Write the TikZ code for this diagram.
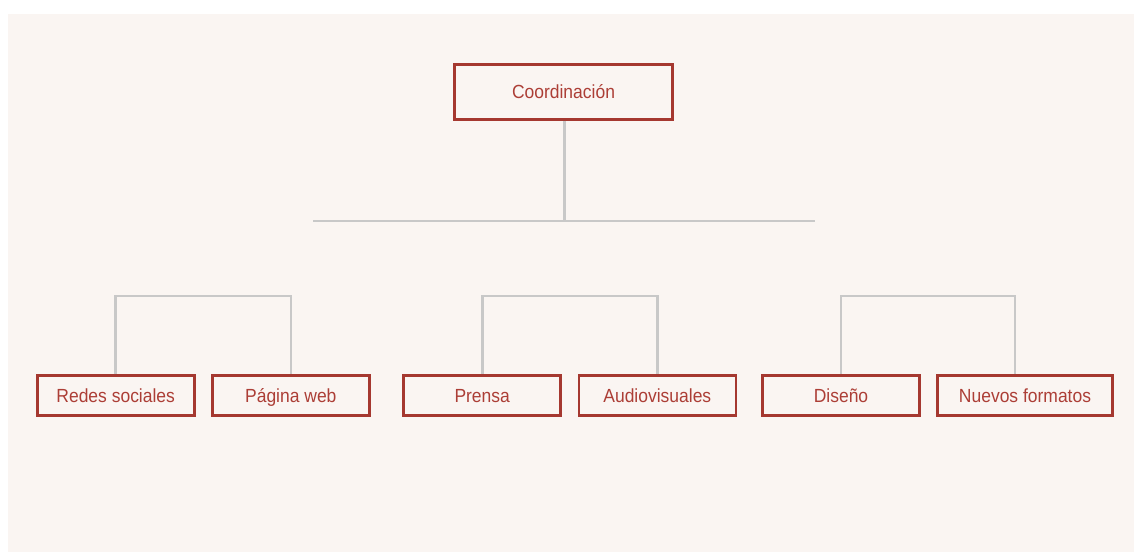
\documentclass[tikz,border=0pt]{standalone}
\usepackage{fontspec}
\setmainfont{Liberation Sans}[FakeStretch=0.92]
\definecolor{bgpink}{RGB}{250,245,242}
\definecolor{boxred}{RGB}{165,56,48}
\definecolor{textred}{RGB}{172,62,54}
\definecolor{linegray}{RGB}{200,200,200}
\begin{document}
\begin{tikzpicture}[x=1pt,y=-1pt,
  unit/.style={draw=boxred,line width=2.6pt,text=textred,fill=bgpink,
    minimum height=40pt,minimum width=157pt,inner sep=0pt,
    text height=13.6pt,text depth=0pt,
    font=\fontsize{19}{22}\selectfont},
  topunit/.style={unit,minimum height=55pt,minimum width=218pt},
  link/.style={draw=linegray,line width=2.6pt}]
\useasboundingbox (0,0) rectangle (1134,552);
\fill[white] (0,0) rectangle (1134,552);
\fill[bgpink] (8,14) rectangle (1134,552);
\node[topunit] (coord) at (563.5,92) {Coordinación};
\coordinate (barM) at (564.5,221);
\coordinate (barL) at (313,221);
\coordinate (barR) at (815,221);
\node[unit] (rs) at (115.7,395.3) {Redes sociales};
\node[unit] (pw) at (290.8,395.3) {Página web};
\node[unit] (pr) at (482.2,395.3) {Prensa};
\node[unit] (av) at (657.3,395.3) {Audiovisuales};
\node[unit] (di) at (841,395.3) {Diseño};
\node[unit,minimum width=175pt] (nf) at (1025,395.3) {Nuevos formatos};
\draw[link] ([xshift=1pt]coord.south) -- (barM);
\draw[link] (barL) -- (barR);
\draw[link] (rs.north) -- ++(0,-78) -| (pw.north);
\draw[link] (pr.north) -- ++(0,-78) -| (av.north);
\draw[link] (di.north) -- ++(0,-78) -| ([xshift=-10pt]nf.north);
\end{tikzpicture}
\end{document}
